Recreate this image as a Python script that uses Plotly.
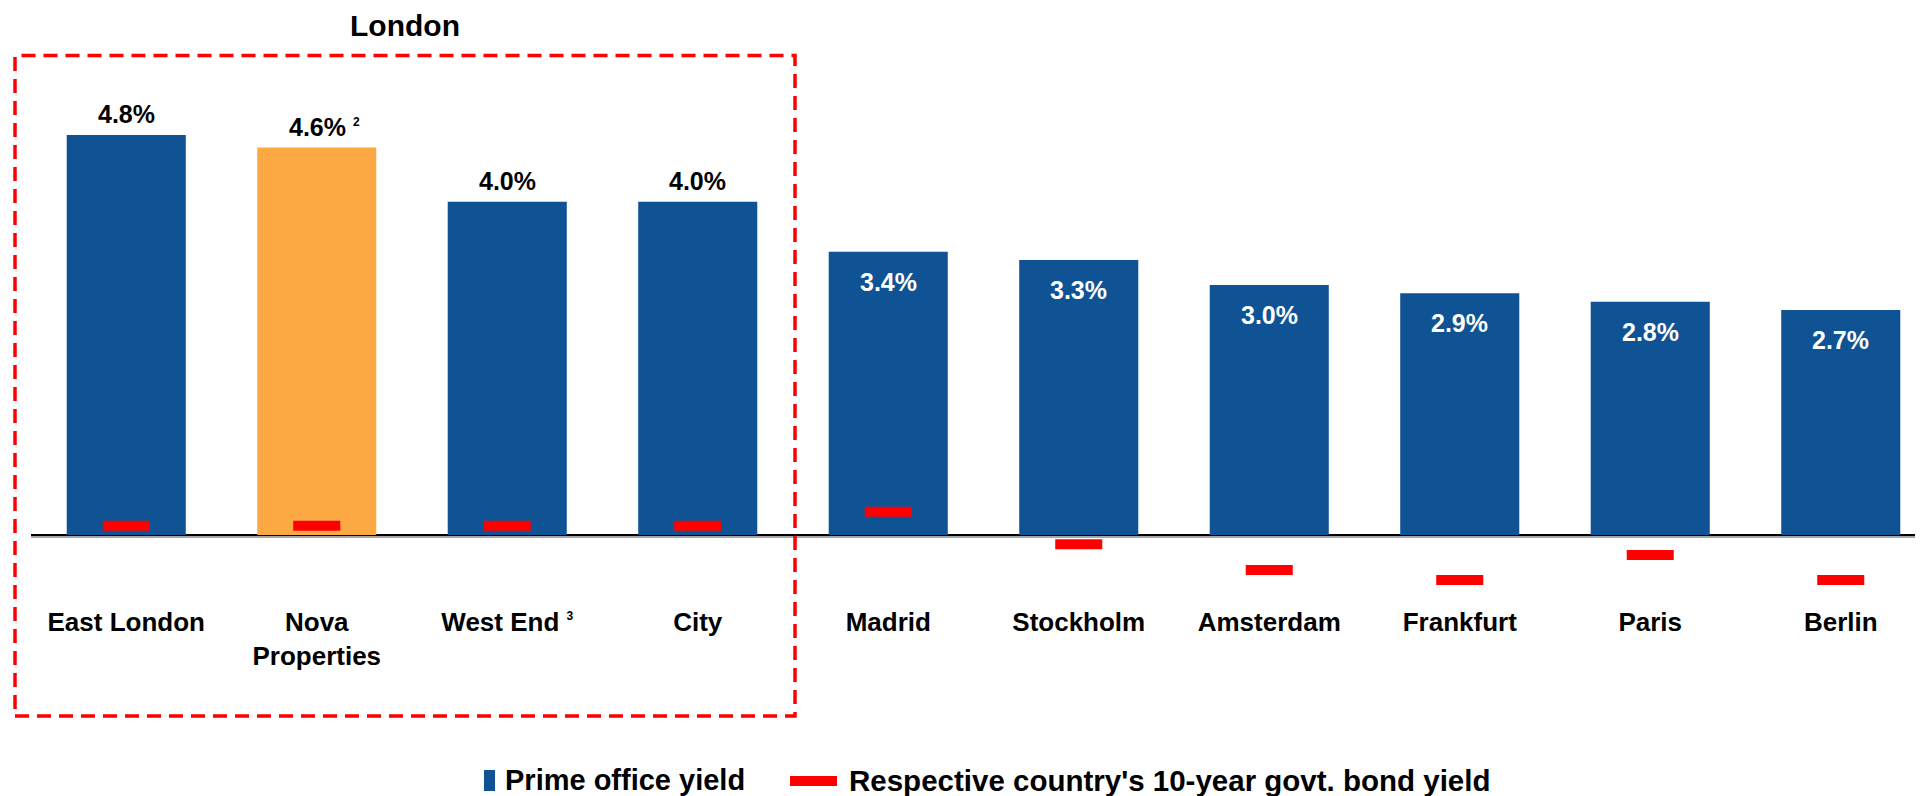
import plotly.graph_objects as go

# ---------------- data ----------------
categories = ["East London", "Nova Properties", "West End", "City", "Madrid",
              "Stockholm", "Amsterdam", "Frankfurt", "Paris", "Berlin"]
tick_labels = ["East London", "Nova<br>Properties",
               "West End <sup><span style='font-size:12px'>3</span></sup>", "City", "Madrid",
               "Stockholm", "Amsterdam", "Frankfurt", "Paris", "Berlin"]
prime_office_yield = [4.8, 4.65, 4.0, 4.0, 3.4, 3.3, 3.0, 2.9, 2.8, 2.7]
yield_labels = ["4.8%", "4.6% <sup><span style='font-size:12px'>2</span></sup>", "4.0%", "4.0%",
                "3.4%", "3.3%", "3.0%", "2.9%", "2.8%", "2.7%"]
bond_yield_10y = [0.11, 0.11, 0.11, 0.11, 0.28, -0.11, -0.42, -0.54, -0.24, -0.54]
london_group = ["East London", "Nova Properties", "West End", "City"]
highlight = "Nova Properties"

# ---------------- styling ----------------
BLUE = "#0F5395"
ORANGE = "#FDA943"
RED = "#FF0000"
FONT = "Liberation Sans, Arial, sans-serif"

OFF = 8                     # page body margin
W, H = 1923 - OFF, 796 - OFF
ML, MR, MT = 31 - OFF, 0, 50 - OFF
PLOT_BOTTOM = 592 - OFF
MB = H - PLOT_BOTTOM
PW, PH = W - ML - MR, H - MT - MB


def px_x(px):
    """page pixel x -> paper coordinate"""
    return (px - OFF - ML) / PW


def px_y(py):
    """page pixel y -> paper coordinate"""
    return (PLOT_BOTTOM - (py - OFF)) / PH


bar_colors = [ORANGE if c == highlight else BLUE for c in categories]

fig = go.Figure()
fig.add_trace(go.Bar(
    x=categories, y=prime_office_yield, name="Prime office yield",
    marker=dict(color=bar_colors, line=dict(width=0)),
    width=0.625, showlegend=False, hoverinfo="x+y",
))
fig.add_trace(go.Scatter(
    x=categories, y=bond_yield_10y, mode="markers",
    name="Respective country's 10-year govt. bond yield",
    # line-ew glyph length is 1.4 x size -> ~47 px
    marker=dict(symbol="line-ew", size=33.6, color=RED, line=dict(color=RED, width=10)),
    showlegend=False, cliponaxis=False,
))

annotations = []
for c, v, lab in zip(categories, prime_office_yield, yield_labels):
    inside = c not in london_group
    annotations.append(dict(
        x=c, y=v, xref="x", yref="y", text=lab, showarrow=False,
        yanchor="middle", yshift=-30 if inside else 21,
        xshift=8 if "<sup>" in lab else 0,
        font=dict(family=FONT, size=25, color="white" if inside else "black", weight="bold"),
    ))

# London group title
annotations.append(dict(
    x=px_x(405), y=px_y(25), xref="paper", yref="paper", text="London",
    showarrow=False, xanchor="center", yanchor="middle",
    font=dict(family=FONT, size=30, color="black", weight="bold"),
))

# legend
annotations.append(dict(
    x=px_x(503), y=px_y(780), xref="paper", yref="paper", text="Prime office yield",
    showarrow=False, xanchor="left", yanchor="middle",
    font=dict(family=FONT, size=29, color="black", weight="bold"),
))
annotations.append(dict(
    x=px_x(847), y=px_y(780), xref="paper", yref="paper",
    text="Respective country's 10-year govt. bond yield",
    showarrow=False, xanchor="left", yanchor="middle",
    font=dict(family=FONT, size=29.5, color="black", weight="bold"),
))

shapes = [
    # dashed London box
    dict(type="rect", xref="paper", yref="paper",
         x0=px_x(15), x1=px_x(795), y0=px_y(716), y1=px_y(55.5),
         line=dict(color=RED, width=3.5, dash="14px,8px"), fillcolor="rgba(0,0,0,0)", layer="above"),
    # grey shadow under the zero line
    dict(type="rect", xref="paper", yref="y", x0=0, x1=1, ysizemode="pixel", yanchor=0,
         y0=-1, y1=-3, fillcolor="#A6A6A6", line=dict(width=0), layer="below"),
    # legend icons
    dict(type="rect", xref="paper", yref="paper", x0=px_x(484), x1=px_x(495),
         y0=px_y(791), y1=px_y(770), fillcolor=BLUE, line=dict(width=0)),
    dict(type="rect", xref="paper", yref="paper", x0=px_x(790), x1=px_x(837),
         y0=px_y(786), y1=px_y(776), fillcolor=RED, line=dict(width=0)),
]

ppu = 83.33                 # pixels per percentage point
zero_px = 535 - OFF
ymax = (zero_px - MT) / ppu
ymin = -(PLOT_BOTTOM - zero_px) / ppu
cat_px = 190.5

fig.update_layout(
    width=W, height=H,
    margin=dict(l=ML, r=MR, t=MT, b=MB, pad=0),
    plot_bgcolor="white", paper_bgcolor="white",
    bargap=0.375,
    showlegend=False,
    xaxis=dict(
        type="category", tickvals=categories, ticktext=tick_labels,
        range=[-0.5, -0.5 + PW / cat_px], showgrid=False, showline=False, zeroline=False,
        ticks="", ticklabelstandoff=12,
        tickfont=dict(family=FONT, size=26, color="black", weight="bold"),
    ),
    yaxis=dict(
        range=[ymin, ymax], showgrid=False, showline=False, showticklabels=False,
        zeroline=True, zerolinecolor="black", zerolinewidth=2, ticks="",
    ),
    annotations=annotations,
    shapes=shapes,
    font=dict(family=FONT, color="black", weight="bold"),
)

fig.write_html("out.html")
